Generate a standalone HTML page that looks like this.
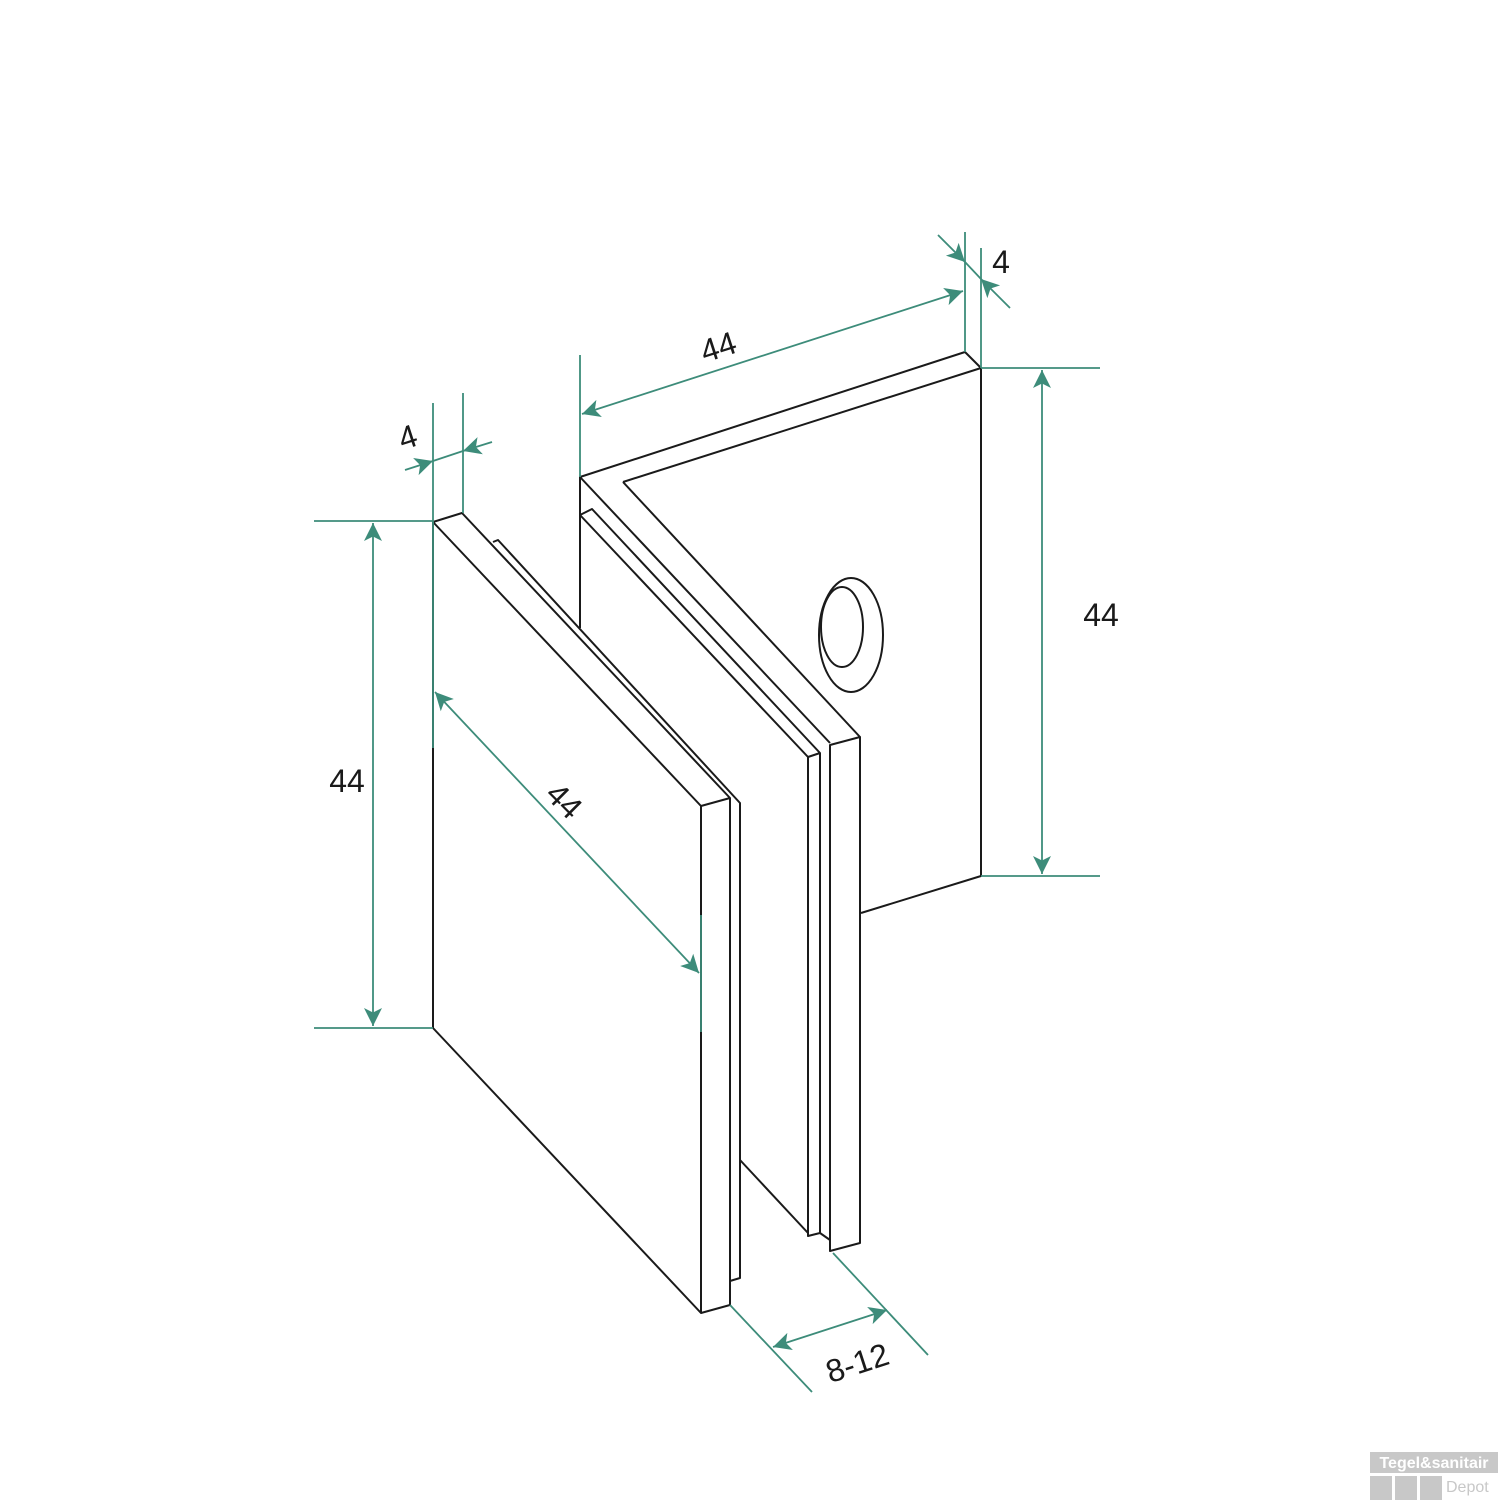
<!DOCTYPE html>
<html><head><meta charset="utf-8"><style>html,body{margin:0;padding:0;background:#fff}svg{display:block}</style></head><body>
<svg width="1500" height="1500" viewBox="0 0 1500 1500" xmlns="http://www.w3.org/2000/svg">
<defs>
<marker id="a" viewBox="0 0 10 10" refX="10" refY="5" markerWidth="26" markerHeight="18" markerUnits="userSpaceOnUse" orient="auto-start-reverse"><path d="M0,0 L10,5 L0,10 L2.5,5 z" fill="#3d8c7a"/></marker>
</defs>
<g fill="none" stroke="#1a1a1a" stroke-width="2" stroke-linejoin="round">
<path d="M580,628 L580,477 L965,352 L981,368 L981,876 L861,913"/>
<path d="M623,482 L981,368"/>
<path d="M623,482 L860,737"/>
<path d="M580,477 L830,743"/>
<path d="M580,515 L592,509 L820,753 L820,1233 L808,1236 L808,757 L580,515"/>
<path d="M808,757 L820,753"/>
<path d="M830,745 L860,737 L860,1243 L830,1251 Z"/>
<path d="M740,1160 L808,1233"/>
<path d="M820,1233 L830,1240"/>
<path d="M433,522 L462,513 L730,798 L730,1305 L701,1313 L433,1028 Z"/>
<path d="M433,522 L701,806 L701,1313"/>
<path d="M701,806 L730,798"/>
<path d="M493,542 L498,540 L740,803 L740,1278 L730,1281"/>
<ellipse cx="851" cy="635" rx="32" ry="57"/>
<ellipse cx="842" cy="627" rx="21" ry="40"/>
</g>
<g fill="none" stroke="#3d8c7a" stroke-width="1.8">
<line x1="433" y1="403" x2="433" y2="748"/>
<line x1="463" y1="393" x2="463" y2="513"/>
<line x1="405" y1="470" x2="433" y2="461" marker-end="url(#a)"/>
<line x1="492" y1="442" x2="463" y2="451" marker-end="url(#a)"/>
<line x1="433" y1="461" x2="463" y2="451"/>
<line x1="314" y1="521" x2="433" y2="521"/>
<line x1="314" y1="1028" x2="433" y2="1028"/>
<line x1="373" y1="523" x2="373" y2="1026" marker-start="url(#a)" marker-end="url(#a)"/>
<line x1="435" y1="692" x2="699" y2="973" marker-start="url(#a)" marker-end="url(#a)"/>
<line x1="701" y1="915" x2="701" y2="1032"/>
<line x1="580" y1="355" x2="580" y2="477"/>
<line x1="965" y1="232" x2="965" y2="352"/>
<line x1="582" y1="414" x2="963" y2="291" marker-start="url(#a)" marker-end="url(#a)"/>
<line x1="981" y1="248" x2="981" y2="368"/>
<line x1="938" y1="235" x2="965" y2="262" marker-end="url(#a)"/>
<line x1="1010" y1="308" x2="981" y2="279" marker-end="url(#a)"/>
<line x1="965" y1="262" x2="981" y2="279"/>
<line x1="981" y1="368" x2="1100" y2="368"/>
<line x1="981" y1="876" x2="1100" y2="876"/>
<line x1="1042" y1="370" x2="1042" y2="874" marker-start="url(#a)" marker-end="url(#a)"/>
<line x1="730" y1="1305" x2="812" y2="1392"/>
<line x1="833" y1="1253" x2="928" y2="1355"/>
<line x1="773" y1="1347" x2="887" y2="1310" marker-start="url(#a)" marker-end="url(#a)"/>
</g>
<g font-family="Liberation Sans, sans-serif" font-size="32" fill="#1a1a1a">
<text x="408" y="448" text-anchor="middle" transform="rotate(-18 408 438)">4</text>
<text x="347" y="792" text-anchor="middle">44</text>
<text x="565" y="812" text-anchor="middle" transform="rotate(45 565 800)">44</text>
<text x="718" y="358" text-anchor="middle" transform="rotate(-18 718 346)">44</text>
<text x="1001" y="273" text-anchor="middle">4</text>
<text x="1101" y="626" text-anchor="middle">44</text>
<text x="857" y="1374" text-anchor="middle" transform="rotate(-18 857 1362)">8-12</text>
</g>
<g font-family="Liberation Sans, sans-serif">
<rect x="1370" y="1452" width="128" height="21" fill="#c8c8c8"/>
<text x="1434" y="1468" text-anchor="middle" font-size="16" font-weight="bold" fill="#fff">Tegel&amp;sanitair</text>
<rect x="1370" y="1476" width="22" height="24" fill="#c8c8c8"/>
<rect x="1395" y="1476" width="22" height="24" fill="#c8c8c8"/>
<rect x="1420" y="1476" width="22" height="24" fill="#c8c8c8"/>
<text x="1446" y="1492" font-size="16" fill="#c8c8c8">Depot</text>
</g>
</svg>
</body></html>
